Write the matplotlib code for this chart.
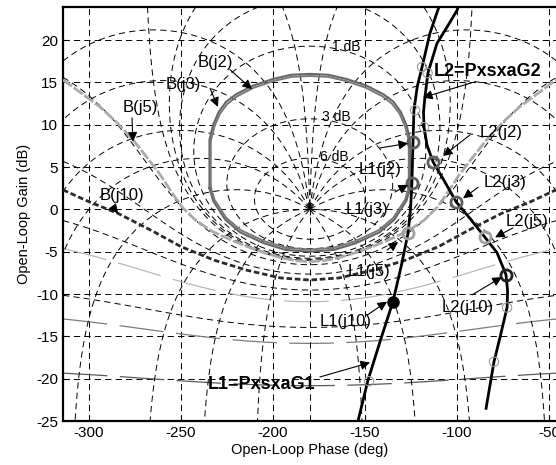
import numpy as np
import matplotlib
matplotlib.use("Agg")
import matplotlib.pyplot as plt

plt.rcParams['font.family'] = ['Liberation Sans', 'DejaVu Sans']
plt.rcParams['axes.unicode_minus'] = False
plt.rcParams['lines.scale_dashes'] = False
plt.rcParams['lines.dashed_pattern'] = [4.5, 3.0]

# ---------------- data ----------------
phase_ticks = [-300, -250, -200, -150, -100, -50]
gain_ticks = [-25, -20, -15, -10, -5, 0, 5, 10, 15, 20]
xlim = (-314.1, -46.2)
ylim = (-25.0, 23.9)

# Nichols grid levels (closed-loop magnitude dB / closed-loop phase deg)
m_levels = [-12, -6, -3, -1, 0, 0.25, 0.5, 1, 3, 6]
n_levels_right = [-150, -120, -90, -50, -30, -20, -10, -5, -1]
n_levels_left = [-359, -355, -350, -340, -330, -310, -270, -240, -210]
extra_m_levels = [-20, -14.3, -8]
extra_m_colors = ['#5a5a5a', '#7c7c7c', '#b8b8b8']
m_labels = ['1 dB', '3 dB', '6 dB']
m_label_phase = [-160.3, -165.8, -166.8]
m_label_gain = [19.2, 10.9, 6.2]

# bounds
B2_phase = [-234.5, -234.5, -232.5, -229.5, -225.5, -220, -211, -200, -190, -180, -170, -160, -149, -140,
            -134.5, -130.5, -127.5, -125.5, -125.5, -127.5, -134, -142, -155, -167, -180, -193, -205, -218,
            -226, -232.5, -234.5]
B2_gain = [2.5, 8.2, 10.0, 11.5, 12.7, 13.6, 14.6, 15.4, 15.9, 16.0, 15.9, 15.4, 14.6, 13.6,
           12.7, 11.5, 10.0, 8.2, 2.5, 1.0, -1.2, -2.7, -4.0, -4.8, -5.0, -4.8, -4.0, -2.7,
           -1.2, 1.0, 2.5]
B3_phase = [-233.8, -233.8, -231.8, -228.8, -224.8, -219.5, -210.6, -199.8, -189.9, -180, -170.1, -160.2,
            -149.4, -140.5, -135.2, -131.2, -128.2, -126.2, -126.2, -128.2, -134.6, -142.4, -155.2, -167.1,
            -180, -192.9, -204.8, -217.6, -225.4, -231.8, -233.8]
B3_gain = [2.6, 8.1, 9.8, 11.3, 12.45, 13.35, 14.35, 15.15, 15.65, 15.75, 15.65, 15.15, 14.35, 13.35,
           12.45, 11.3, 9.8, 8.1, 2.6, 1.15, -1.0, -2.45, -3.75, -4.55, -4.75, -4.55, -3.75, -2.45,
           -1.0, 1.15, 2.6]
B5_phase = [-314.1, -304, -294, -285, -276, -268, -261, -255, -249.5, -242, -233, -223, -214, -205, -196,
            -188, -180, -172, -164, -155, -146, -137, -127, -118, -110.5, -105, -99, -92, -84, -75, -66,
            -56, -46.2]
B5_gain = [15.3, 13.7, 12.1, 10.3, 8.2, 6.0, 4.0, 2.0, 0.3, -1.3, -2.6, -3.6, -4.4, -5.1, -5.7,
           -6.05, -6.2, -6.05, -5.7, -5.1, -4.4, -3.6, -2.6, -1.3, 0.3, 2.0, 4.0, 6.0, 8.2, 10.3, 12.1,
           13.7, 15.3]
B10_phase = [-314.1, -300, -284, -266, -250, -232, -214, -196, -180, -164, -146, -128, -110, -94, -76,
             -60, -46.2]
B10_gain = [2.3, 0.9, -0.5, -2.5, -4.4, -6.0, -7.2, -8.1, -8.35, -8.1, -7.2, -6.0, -4.4, -2.5, -0.5,
            0.9, 2.3]

# loops
L1_phase = [-153.8, -148.4, -141.5, -134.8, -130.2, -126.6, -125.2, -124.5, -124.2, -123.9, -123.4,
            -121.6, -119.0, -114.7, -110.3, -109.6]
L1_gain = [-25.0, -20.2, -15.4, -10.9, -6.6, -2.8, 0.2, 3.1, 5.6, 8.0, 11.7, 14.5, 16.8, 20.8, 23.6, 24.0]
L2_phase = [-99.2, -100.0, -105.5, -110.9, -115.8, -117.4, -118.2, -117.9, -116.3, -113.0, -106.5,
            -100.5, -92.5, -84.8, -78.3, -73.4, -72.5, -72.8, -76.6, -79.9, -84.2]
L2_gain = [24.0, 23.5, 21.5, 19.6, 16.1, 13.3, 11.5, 9.7, 7.6, 5.6, 3.2, 0.9, -1.2, -3.3, -5.1, -7.7,
           -9.6, -11.6, -15.1, -18.0, -23.5]

# frequency points on the loops
L1_pt_phase = [-123.9, -124.5, -126.6, -134.8]
L1_pt_gain = [8.0, 3.1, -2.8, -10.9]
L2_pt_phase = [-113.0, -100.5, -84.8, -73.4]
L2_pt_gain = [5.6, 0.9, -3.3, -7.7]
pt_colors = ['#606060', '#606060', '#a0a0a0', '#202020']
small_pt_phase = [-122.8, -119.0, -147.8, -117.9, -116.0, -72.8, -79.9]
small_pt_gain = [11.7, 16.8, -20.3, 9.7, 16.1, -11.6, -18.0]

# annotations: label, text position, arrow tail, arrow tip, bold
ann_labels = ['B(j2)', 'B(j3)', 'B(j5)', 'B(j10)', 'L2=PxsxaG2', 'L2(j2)', 'L2(j3)', 'L2(j5)', 'L2(j10)',
              'L1(j2)', 'L1(j3)', 'L1(j5)', 'L1(j10)', 'L1=PxsxaG1']
ann_text_xy = [(-231.5, 17.3), (-248.9, 14.7), (-272.3, 12.0), (-282.1, 1.6), (-83.2, 16.3),
               (-76.1, 9.1), (-73.9, 3.2), (-62.0, -1.4), (-94.0, -11.6),
               (-141.8, 4.65), (-148.9, -0.07), (-147.8, -7.3), (-160.3, -13.2), (-206.0, -20.7)]
ann_tail = [(-223.4, 16.5), (-234.2, 14.3), (-276.6, 10.8), (-287.0, 0.3), (-91.3, 15.0),
            (-92.9, 8.8), (-88.6, 2.6), (-69.6, -2.2), (-91.8, -10.1),
            (-141.8, 7.25), (-133.7, 2.05), (-138.0, -4.8), (-148.9, -12.5), (-174.5, -19.8)]
ann_tip = [(-211.4, 14.2), (-229.9, 12.1), (-276.1, 8.0), (-284.2, -0.5), (-118.5, 13.2),
           (-107.6, 6.3), (-96.7, 1.3), (-79.3, -3.3), (-75.6, -8.0),
           (-126.6, 7.8), (-126.6, 2.9), (-132.0, -3.85), (-138.0, -10.9), (-147.3, -18.1)]
ann_bold = [False, False, False, False, True, False, False, False, False,
            False, False, False, False, True]

# ---------------- figure ----------------
fig = plt.figure(figsize=(5.56, 4.65), dpi=100)
ax = fig.add_axes([63 / 556, 44 / 465, (556 - 63) / 556, (421 - 7) / 465])
ax.set_xlim(*xlim)
ax.set_ylim(*ylim)

dash = (0, (4.5, 3.0))

# rectangular grid
ax.set_xticks(phase_ticks)
ax.set_yticks(gain_ticks)
ax.grid(True, color='k', linestyle=dash, linewidth=0.7)
ax.set_axisbelow(True)

# Nichols chart contours
ph = np.linspace(xlim[0], xlim[1], 900)
gn = np.linspace(ylim[0], ylim[1], 700)
P, G = np.meshgrid(ph, gn)
L = 10 ** (G / 20) * np.exp(1j * np.radians(P))
T = L / (1 + L)
MdB = 20 * np.log10(np.abs(T))
cs = ax.contour(P, G, MdB, levels=m_levels, colors='k', linewidths=0.7, linestyles='--')
cs2 = ax.contour(P, G, MdB, levels=extra_m_levels, colors=extra_m_colors, linewidths=0.9)
cs2.set_linestyle((0, (32, 9)))

for lo, hi, levs in [(xlim[0], -180.05, n_levels_left), (-179.95, xlim[1], n_levels_right)]:
    php = np.linspace(lo, hi, 600)
    Pp, Gp = np.meshgrid(php, gn)
    Lp = 10 ** (Gp / 20) * np.exp(1j * np.radians(Pp))
    NT = Pp - np.degrees(np.angle(1 + Lp))
    ax.contour(Pp, Gp, NT, levels=sorted(levs), colors='k', linewidths=0.7, linestyles='--')
# -180 closed-loop phase line below the critical point
ax.plot([-180, -180], [ylim[0], 0], color='k', lw=0.7, linestyle=dash)
ax.plot([-180], [0], marker='+', color='k', ms=8, mew=0.8)

for lab, x, y in zip(m_labels, m_label_phase, m_label_gain):
    ax.text(x, y, lab, fontsize=10, ha='center', va='center')

# bounds
ax.plot(B2_phase, B2_gain, color='#666666', lw=1.5, zorder=4)
ax.plot(B3_phase, B3_gain, color='#777777', lw=1.4, zorder=4)
ax.plot(B5_phase, B5_gain, color='#aaaaaa', lw=2.0, linestyle=(0, (8, 1.5)), zorder=4)
ax.plot(B10_phase, B10_gain, color='#2a2a2a', lw=2.0, linestyle=(0, (4, 2)), zorder=4)

# loops
ax.plot(L1_phase, L1_gain, color='k', lw=2.0, zorder=5)
ax.plot(L2_phase, L2_gain, color='k', lw=2.0, zorder=5)

ax.scatter(small_pt_phase, small_pt_gain, s=45, facecolors='none', edgecolors='#9a9a9a',
           linewidths=0.8, zorder=6)
for i in range(4):
    if i == 3:
        ax.plot(L1_pt_phase[i], L1_pt_gain[i], 'o', ms=8, mfc='k', mec='k', zorder=7)
    else:
        ax.plot(L1_pt_phase[i], L1_pt_gain[i], 'o', ms=8, mfc='none', mec=pt_colors[i], mew=2.0, zorder=7)
    ax.plot(L2_pt_phase[i], L2_pt_gain[i], 'o', ms=8, mfc='none', mec=pt_colors[i], mew=2.0, zorder=7)

# annotations
for lab, txy, tail, tip, bold in zip(ann_labels, ann_text_xy, ann_tail, ann_tip, ann_bold):
    ax.text(txy[0], txy[1], lab, fontsize=13 if bold else 12,
            fontweight='bold' if bold else 'normal', ha='center', va='center', zorder=8)
    ax.annotate('', xy=tip, xytext=tail,
                arrowprops=dict(arrowstyle='-|>', color='k', lw=0.8, mutation_scale=14,
                                shrinkA=0, shrinkB=0), zorder=8)

ax.set_xlabel('Open-Loop Phase (deg)', fontsize=10.5, labelpad=2)
ax.set_ylabel('Open-Loop Gain (dB)', fontsize=10.5, labelpad=4)
ax.tick_params(labelsize=11, direction='in', length=4)
for side in ['left', 'bottom', 'top']:
    ax.spines[side].set_linewidth(1.6)
ax.spines['right'].set_visible(False)

fig.savefig('out.png', dpi=100)
